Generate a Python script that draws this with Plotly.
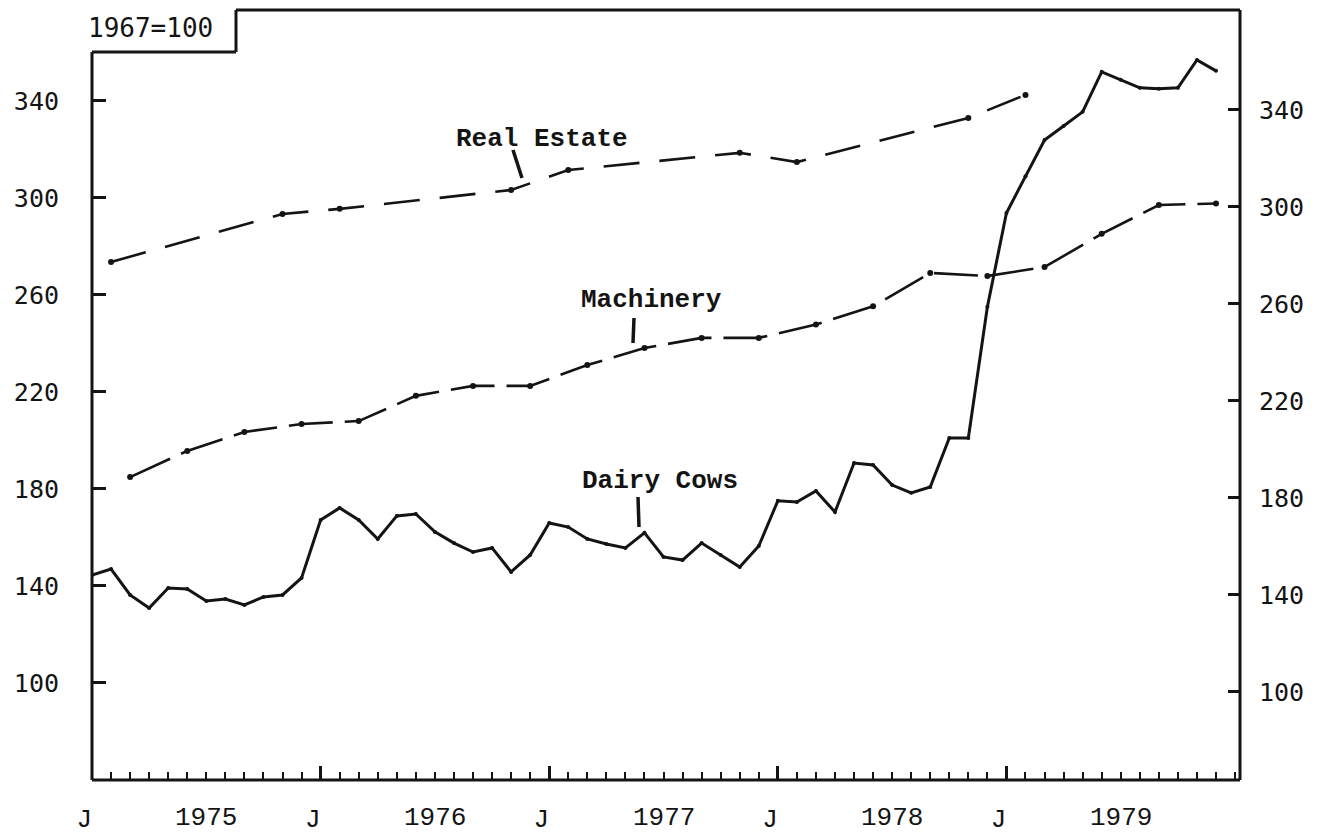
import plotly.graph_objects as go

# ---------------- data ----------------
years = [1975, 1976, 1977, 1978, 1979]

# Dairy cows, monthly Jan 1975 .. Dec 1979 (1967=100)
dairy_cows = [
    144.5, 147.0, 136.3, 130.9, 139.2, 138.8, 133.8, 134.6, 132.2, 135.5, 136.3, 143.3,
    167.2, 172.2, 167.2, 159.4, 168.9, 169.7, 162.3, 157.7, 154.0, 155.7, 145.8, 152.8,
    166.0, 164.3, 159.4, 157.3, 155.7, 161.9, 152.0, 150.7, 157.7, 152.8, 147.8, 156.5,
    175.1, 174.6, 179.2, 170.5, 190.7, 189.9, 181.6, 178.4, 180.8, 201.0, 201.0, 255.1,
    293.8, 308.9, 323.9, 329.7, 335.5, 352.0, 348.7, 345.4, 345.0, 345.4, 356.9, 352.4,
]
dairy_dates = [f"{y}-{m:02d}" for y in years for m in range(1, 13)]

# Machinery, quarterly
machinery_dates = [f"{y}-{m:02d}" for y in years for m in (3, 6, 9, 12)]
machinery = [184.9, 195.7, 203.5, 206.8,
             208.0, 218.4, 222.5, 222.5,
             231.1, 238.1, 242.3, 242.3,
             247.8, 255.3, 269.1, 267.8,
             271.5, 285.2, 297.1, 297.7]

# Real estate, Feb / Nov surveys
real_estate_dates = ["1975-02", "1975-11", "1976-02", "1976-11", "1977-02",
                     "1977-11", "1978-02", "1978-11", "1979-02"]
real_estate = [273.6, 293.4, 295.5, 303.3, 311.5, 318.6, 314.8, 333.0, 342.5]

y_ticks = [100, 140, 180, 220, 260, 300, 340]
jan_label = "J\u00a0"
year_labels = [str(y) for y in years]


def month_index(s):
    y, m = s.split("-")
    return (int(y) - 1975) * 12 + int(m) - 1


# ---------------- geometry ----------------
# the page body has an 8px margin; compensate so the plot lands where wanted
OFF = 8
VW, VH = 1319, 838
PL, PR, PT, PB = 92, 1240, 10, 780      # plot box in viewport pixels
W, H = VW - OFF, VH - OFF
L, T = PL - OFF, PT - OFF
R, B = W - (PR - OFF), H - (PB - OFF)
PW, PH = PR - PL, PB - PT
X_RANGE = [0, 60.26]
Y_RANGE = [60.0, 377.5]
Y2_RANGE = [63.7, 381.2]
INK = "#141414"
MONO = "Liberation Mono"
GOTH = "DejaVu Sans Mono"


def px(xp):
    return (xp - PL) / PW


def py(yp):
    return 1 - (yp - PT) / PH


fig = go.Figure()

fig.add_trace(go.Scatter(
    x=[month_index(d) for d in dairy_dates], y=dairy_cows,
    mode="lines+markers", line=dict(color=INK, width=3),
    marker=dict(size=4, color=INK), name="Dairy Cows", showlegend=False))

fig.add_trace(go.Scatter(
    x=[month_index(d) for d in machinery_dates], y=machinery,
    mode="lines+markers", line=dict(color=INK, width=2.6, dash="44px,12px"),
    marker=dict(size=6, color=INK), name="Machinery", showlegend=False))

fig.add_trace(go.Scatter(
    x=[month_index(d) for d in real_estate_dates], y=real_estate,
    mode="lines+markers", line=dict(color=INK, width=2.6, dash="36px,20px"),
    marker=dict(size=6, color=INK), name="Real Estate", showlegend=False))

# invisible trace to create the right-hand axis
fig.add_trace(go.Scatter(x=[0], y=[100], yaxis="y2", mode="markers",
                         marker=dict(opacity=0), hoverinfo="skip", showlegend=False))

fig.update_layout(
    width=W, height=H,
    margin=dict(l=L, r=R, t=T, b=B, pad=0, autoexpand=False),
    paper_bgcolor="white", plot_bgcolor="white",
    showlegend=False,
    xaxis=dict(
        range=X_RANGE, showgrid=False, zeroline=False, showline=False, automargin=False,
        tickmode="array", tickvals=[0, 12, 24, 36, 48], ticktext=[jan_label] * 5,
        ticks="inside", ticklen=14, tickwidth=2.5, tickcolor=INK,
        tickfont=dict(family=MONO, size=26, color=INK),
        ticklabelstandoff=20,
        minor=dict(ticks="inside", ticklen=8, tickwidth=2, tickcolor=INK,
                   tickmode="linear", tick0=0, dtick=1, showgrid=False),
    ),
    yaxis=dict(
        range=Y_RANGE, showgrid=False, zeroline=False, showline=False, automargin=False,
        tickmode="array", tickvals=y_ticks,
        ticks="inside", ticklen=14, tickwidth=2.5, tickcolor=INK,
        tickfont=dict(family=GOTH, size=25, color=INK),
        ticklabelstandoff=32,
    ),
    yaxis2=dict(
        range=Y2_RANGE, overlaying="y", side="right", anchor="x", automargin=False,
        showgrid=False, zeroline=False, showline=False,
        tickmode="array", tickvals=y_ticks, showticklabels=False,
        ticks="inside", ticklen=12, tickwidth=2.5, tickcolor=INK,
    ),
)

# right-hand scale labels, placed against the right axis ticks
for v in y_ticks:
    fig.add_annotation(x=px(1257), y=v, xref="paper", yref="y2", text=str(v),
                       showarrow=False, xanchor="left", yanchor="middle", yshift=-1,
                       font=dict(family=GOTH, size=25, color=INK))

# frame with the notch for the "1967=100" box
frame = [
    (px(PL), py(PB), px(PL), py(52)),
    (px(PL), py(52), px(236), py(52)),
    (px(236), py(52), px(236), py(PT)),
    (px(236), py(PT), 1, py(PT)),
    (1, 1, 1, 0),
    (0, 0, 1, 0),
]
for x0, y0, x1, y1 in frame:
    fig.add_shape(type="line", xref="paper", yref="paper", x0=x0, y0=y0, x1=x1, y1=y1,
                  line=dict(color=INK, width=3))

# year labels under the axis
for i, lab in enumerate(year_labels):
    fig.add_annotation(x=6 + 12 * i, y=py(818), xref="x", yref="paper",
                       text=lab, showarrow=False, xanchor="center", yanchor="middle",
                       font=dict(family=MONO, size=26, color=INK))

# index base label
fig.add_annotation(x=px(150), y=py(28), xref="paper", yref="paper",
                   text="1967=100", showarrow=False, xanchor="center", yanchor="middle",
                   font=dict(family=GOTH, size=26, color=INK))

# series labels with pointers
labels = [
    ("Real Estate", 542, 139, (513, 150, 522, 178)),
    ("Machinery", 651, 300, (634, 318, 633, 343)),
    ("Dairy Cows", 660, 481, (638, 497, 639, 527)),
]
for text, cx, cy, (x0, y0, x1, y1) in labels:
    fig.add_annotation(x=px(cx), y=py(cy), xref="paper", yref="paper",
                       text="<b>" + text + "</b>", showarrow=False,
                       xanchor="center", yanchor="middle",
                       font=dict(family=MONO, size=26, color=INK))
    fig.add_shape(type="line", xref="paper", yref="paper",
                  x0=px(x0), y0=py(y0), x1=px(x1), y1=py(y1),
                  line=dict(color=INK, width=3.5))

fig.write_html("out.html")
